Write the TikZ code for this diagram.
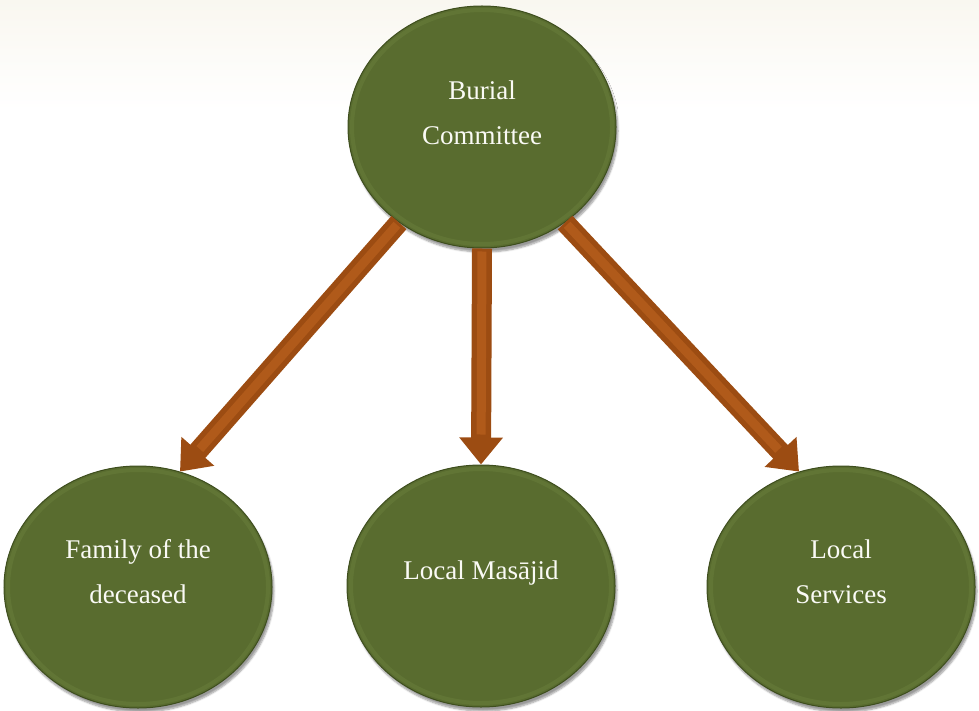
\documentclass[tikz,border=0pt]{standalone}
\usepackage{fontspec}
\setmainfont{Liberation Serif}
\usetikzlibrary{shapes.geometric,arrows.meta,shadows.blur}
\definecolor{olivegreen}{RGB}{89,108,47}
\definecolor{olivedark}{RGB}{62,78,30}
\definecolor{olivelight}{RGB}{140,165,90}
\definecolor{arrowbrown}{RGB}{156,76,18}
\definecolor{arrowlight}{RGB}{196,104,34}
\definecolor{cream}{RGB}{249,247,240}
\definecolor{textwhite}{RGB}{250,250,245}
\tikzset{
  bubble/.style={ellipse, minimum width=268pt, minimum height=242pt, inner sep=0pt,
    fill=olivegreen, draw=olivedark, line width=1pt,
    blur shadow={shadow xshift=2pt, shadow yshift=-4pt, shadow blur steps=6, shadow opacity=40}},
  rim/.style={ellipse, minimum width=260pt, minimum height=234pt, inner sep=0pt,
    draw=olivelight, line width=4pt, draw opacity=0.16},
  bubbletext/.style={text=textwhite, align=center, font=\fontsize{27}{45}\selectfont},
  bigarrow/.style={line width=20pt, draw=arrowbrown, -{Triangle[width=42pt,length=27pt]}},
  arrowshine/.style={line width=9pt, draw=arrowlight, draw opacity=0.5}
}
\begin{document}
\begin{tikzpicture}[x=1pt,y=-1pt]
\useasboundingbox (0,0) rectangle (979,711);
\shade[top color=cream, bottom color=white] (0,0) rectangle (979,110);

\node[bubble] (top) at (482,127) {};
\node[bubble] (left) at (138,587) {};
\node[bubble] (mid) at (481,586) {};
\node[bubble] (right) at (841,587) {};

\node[rim] (toprim) at (top) {};
\node[rim] (leftrim) at (left) {};
\node[rim] (midrim) at (mid) {};
\node[rim] (rightrim) at (right) {};

\node[bubbletext] (toptext) at (482,113) {Burial\\Committee};
\node[bubbletext] (lefttext) at (138,572) {Family of the\\deceased};
\node[bubbletext] (midtext) at (481,573) {Local Masājid};
\node[bubbletext] (righttext) at (841,572) {Local\\Services};

\draw[bigarrow] (top.229) -- (left.70);
\draw[bigarrow] (top.south) -- (mid.north);
\draw[bigarrow] (top.311) -- (right.110);

\draw[arrowshine, shorten >=30pt, shorten <=3pt] (top.229) -- (left.70);
\draw[arrowshine, shorten >=30pt, shorten <=3pt] (top.south) -- (mid.north);
\draw[arrowshine, shorten >=30pt, shorten <=3pt] (top.311) -- (right.110);
\end{tikzpicture}
\end{document}
